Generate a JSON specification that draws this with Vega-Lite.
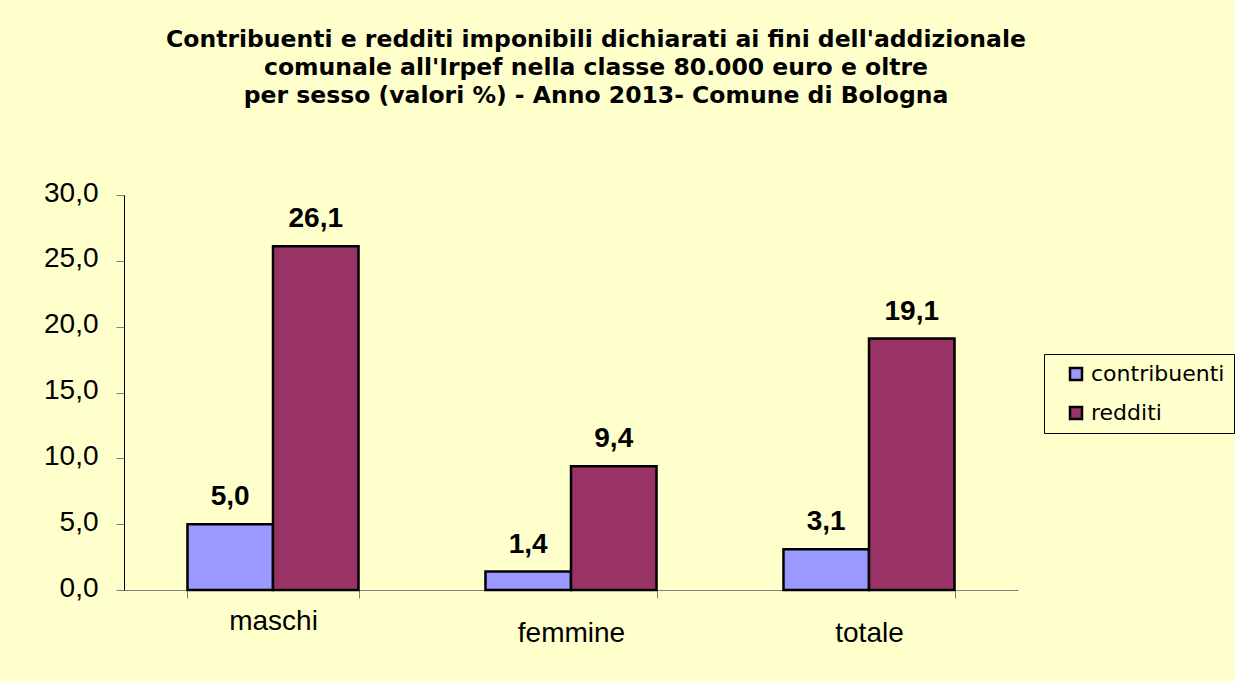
{
  "$schema": "https://vega.github.io/schema/vega-lite/v6.json",
  "width": 894,
  "height": 395,
  "autosize": {"type": "none"},
  "padding": {"left": 124, "top": 195, "right": 217, "bottom": 91},
  "background": "#FFFFCC",
  "title": {
    "text": ["Contribuenti e redditi imponibili dichiarati ai fini dell'addizionale", "comunale all'Irpef nella classe 80.000 euro e oltre", "per sesso (valori %) - Anno 2013- Comune di Bologna"],
    "font": "DejaVu Sans",
    "fontSize": 23.5,
    "fontWeight": "bold",
    "color": "#000000",
    "anchor": "middle",
    "frame": "group",
    "dx": 25,
    "lineHeight": 28,
    "offset": 72
  },
  "data": {
    "values": [
      {"sesso": "maschi", "serie": "contribuenti", "valore": 5.0},
      {"sesso": "maschi", "serie": "redditi", "valore": 26.1},
      {"sesso": "femmine", "serie": "contribuenti", "valore": 1.4},
      {"sesso": "femmine", "serie": "redditi", "valore": 9.4},
      {"sesso": "totale", "serie": "contribuenti", "valore": 3.1},
      {"sesso": "totale", "serie": "redditi", "valore": 19.1}
    ]
  },
  "encoding": {
    "x": {
      "field": "sesso",
      "type": "nominal",
      "sort": ["maschi", "femmine", "totale"],
      "scale": {"paddingInner": 0.426, "paddingOuter": 0.213},
      "axis": {
        "title": null,
        "labelAngle": 0,
        "labelFont": "Liberation Sans",
        "labelFontSize": 28,
        "labelColor": "#000000",
        "labelPadding": {"condition": {"test": "datum.value === 'maschi'", "value": 9}, "value": 21},
        "domainColor": "#808080",
        "tickColor": "#808080",
        "tickSize": 8,
        "tickBand": "extent",
        "grid": false
      }
    },
    "xOffset": {"field": "serie", "type": "nominal", "sort": ["contribuenti", "redditi"], "scale": {"paddingInner": 0, "paddingOuter": 0}},
    "y": {
      "field": "valore",
      "type": "quantitative",
      "scale": {"domain": [0, 30], "nice": false},
      "axis": {
        "title": null,
        "values": [0, 5, 10, 15, 20, 25, 30],
        "format": ".1f",
        "formatType": "number",
        "labelFont": "Liberation Sans",
        "labelFontSize": 28,
        "labelColor": "#000000",
        "labelPadding": 18,
        "labelOffset": -2,
        "domainColor": "#000000",
        "tickColor": "#808080",
        "tickSize": 8,
        "grid": false
      }
    }
  },
  "layer": [
    {
      "mark": {"type": "bar", "stroke": "#000000", "strokeWidth": 2.5},
      "encoding": {
        "color": {
          "field": "serie",
          "type": "nominal",
          "scale": {"domain": ["contribuenti", "redditi"], "range": ["#9999FF", "#993366"]},
          "legend": {
            "title": null,
            "orient": "none",
            "legendX": 920,
            "legendY": 159,
            "direction": "vertical",
            "symbolType": "square",
            "symbolSize": 144,
            "symbolStrokeColor": "#000000",
            "symbolStrokeWidth": 2.5,
            "symbolOffset": 12,
            "labelFont": "DejaVu Sans",
            "labelFontSize": 22,
            "labelColor": "#000000",
            "labelOffset": 4,
            "rowPadding": 17,
            "padding": 9,
            "strokeColor": "#000000",
            "fillColor": "#FFFFCC",
            "labelLimit": 300
          }
        }
      }
    },
    {
      "mark": {"type": "text", "dy": -19, "font": "Liberation Sans", "fontSize": 28, "fontWeight": "bold", "color": "#000000", "baseline": "alphabetic"},
      "encoding": {
        "text": {"field": "valore", "type": "quantitative", "format": ".1f"}
      }
    }
  ],
  "config": {"view": {"stroke": null}, "locale": {"number": {"decimal": ",", "thousands": ".", "grouping": [3], "currency": ["€", ""]}}}
}
